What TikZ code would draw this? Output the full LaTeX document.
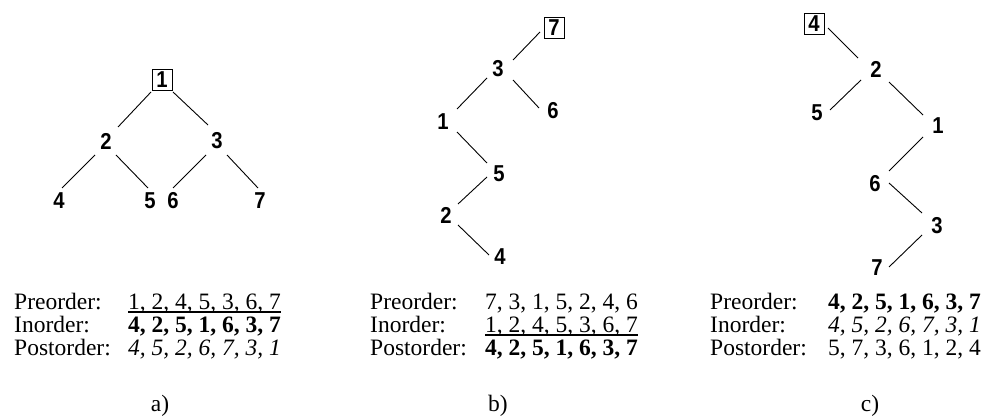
\documentclass[tikz,border=0pt]{standalone}
\usepackage{fontspec}
\setmainfont{Liberation Serif}
\newfontfamily\treefont[FakeStretch=0.88]{Liberation Sans}
\begin{document}
\begin{tikzpicture}[x=1pt,y=-1pt,
  tn/.style={font=\treefont\bfseries\fontsize{23}{23}\selectfont, inner sep=0pt},
  tb/.style={tn, draw, line width=1pt, minimum width=20pt, minimum height=21pt},
  edge/.style={line width=0.9pt},
  txt/.style={font=\fontsize{23.5}{23.5}\selectfont, inner sep=0pt, anchor=base west},
  ul/.style={line width=1.3pt}]
\useasboundingbox (0,0) rectangle (987,419);
% ---------- tree a ----------
\node[tb] (a1) at (162,80) {1};
\node[tn] (a2) at (106,141) {2};
\node[tn] (a3) at (217,141) {3};
\node[tn] (a4) at (59,201) {4};
\node[tn] (a5) at (150,201) {5};
\node[tn] (a6) at (173,201) {6};
\node[tn] (a7) at (260,201) {7};
\draw[edge] ([shift={(-11,12)}]a1.center) -- ([shift={(12,-14)}]a2.center);
\draw[edge] ([shift={(11,12)}]a1.center) -- ([shift={(-9,-16)}]a3.center);
\draw[edge] ([shift={(-11,14)}]a2.center) -- ([shift={(3,-13)}]a4.center);
\draw[edge] ([shift={(10,14)}]a2.center) -- ([shift={(-2,-13)}]a5.center);
\draw[edge] ([shift={(-11,14)}]a3.center) -- ([shift={(0,-13)}]a6.center);
\draw[edge] ([shift={(10,14)}]a3.center) -- ([shift={(-2,-13)}]a7.center);
% ---------- tree b ----------
\node[tb] (b7) at (554,28) {7};
\node[tn] (b3) at (498,69) {3};
\node[tn] (b6) at (553,111) {6};
\node[tn] (b1) at (443,122) {1};
\node[tn] (b5) at (499,174) {5};
\node[tn] (b2) at (446,215) {2};
\node[tn] (b4) at (500,257) {4};
\draw[edge] ([shift={(-14,4)}]b7.center) -- ([shift={(15,-9)}]b3.center);
\draw[edge] ([shift={(-11,9)}]b3.center) -- ([shift={(14,-13)}]b1.center);
\draw[edge] ([shift={(15,11)}]b3.center) -- ([shift={(-14,-3)}]b6.center);
\draw[edge] ([shift={(14,10)}]b1.center) -- ([shift={(-12,-11)}]b5.center);
\draw[edge] ([shift={(-12,3)}]b5.center) -- ([shift={(12,-11)}]b2.center);
\draw[edge] ([shift={(12,10)}]b2.center) -- ([shift={(-11,-2)}]b4.center);
% ---------- tree c ----------
\node[tb] (c4) at (814,24) {4};
\node[tn] (c2) at (876,69) {2};
\node[tn] (c5) at (817,113) {5};
\node[tn] (c1) at (938,126) {1};
\node[tn] (c6) at (875,184) {6};
\node[tn] (c3) at (937,226) {3};
\node[tn] (c7) at (877,268) {7};
\draw[edge] ([shift={(14,4)}]c4.center) -- ([shift={(-18,-11)}]c2.center);
\draw[edge] ([shift={(-15,11)}]c2.center) -- ([shift={(13,-3)}]c5.center);
\draw[edge] ([shift={(13,13)}]c2.center) -- ([shift={(-15,-11)}]c1.center);
\draw[edge] ([shift={(-15,11)}]c1.center) -- ([shift={(14,-13)}]c6.center);
\draw[edge] ([shift={(14,-1)}]c6.center) -- ([shift={(-15,-13)}]c3.center);
\draw[edge] ([shift={(-15,9)}]c3.center) -- ([shift={(12,-1)}]c7.center);
% ---------- traversals a ----------
\node[txt] (aPreL) at (14,309) {Preorder:};
\node[txt] (aInL) at (14,332) {Inorder:};
\node[txt] (aPostL) at (14,355) {Postorder:};
\node[txt] (aPre) at (128,309) {1, 2, 4, 5, 3, 6, 7};
\node[txt] (aIn) at (128,332) {\bfseries 4, 2, 5, 1, 6, 3, 7};
\node[txt] (aPost) at (128,355) {\itshape 4, 5, 2, 6, 7, 3, 1};
\draw[ul] ([yshift=-3pt]aPre.base west) -- ([yshift=-3pt]aPre.base east);
% ---------- traversals b ----------
\node[txt] (bPreL) at (370,309) {Preorder:};
\node[txt] (bInL) at (370,332) {Inorder:};
\node[txt] (bPostL) at (370,355) {Postorder:};
\node[txt] (bPre) at (485,309) {7, 3, 1, 5, 2, 4, 6};
\node[txt] (bIn) at (485,332) {1, 2, 4, 5, 3, 6, 7};
\node[txt] (bPost) at (485,355) {\bfseries 4, 2, 5, 1, 6, 3, 7};
\draw[ul] ([yshift=-3pt]bIn.base west) -- ([yshift=-3pt]bIn.base east);
% ---------- traversals c ----------
\node[txt] (cPreL) at (710,309) {Preorder:};
\node[txt] (cInL) at (710,332) {Inorder:};
\node[txt] (cPostL) at (710,355) {Postorder:};
\node[txt] (cPre) at (828,309) {\bfseries 4, 2, 5, 1, 6, 3, 7};
\node[txt] (cIn) at (828,332) {\itshape 4, 5, 2, 6, 7, 3, 1};
\node[txt] (cPost) at (828,355) {5, 7, 3, 6, 1, 2, 4};
% ---------- captions ----------
\node[txt, anchor=base] (capa) at (160,411) {a)};
\node[txt, anchor=base] (capb) at (498,411) {b)};
\node[txt, anchor=base] (capc) at (870,411) {c)};
\end{tikzpicture}
\end{document}
